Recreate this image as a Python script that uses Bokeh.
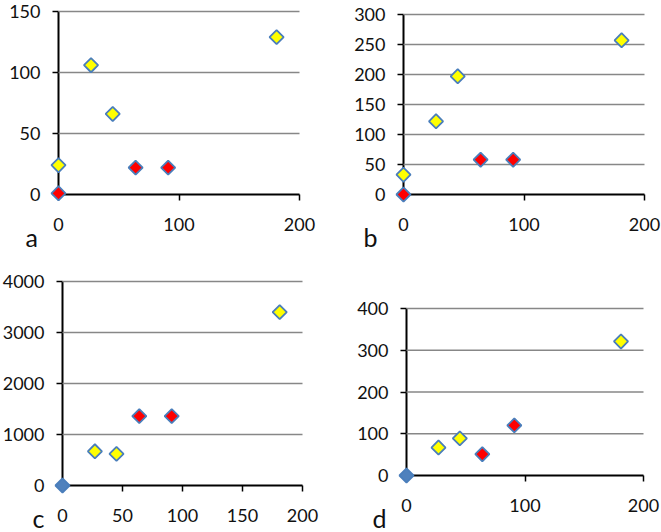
import math
from bokeh.plotting import figure
from bokeh.layouts import gridplot
from bokeh.models import Range1d, FixedTicker, Label, LinearAxis
from bokeh.embed import file_html
from bokeh.resources import INLINE

# ---------------- data ----------------
# panel a
a_yellow_x = [0, 27, 45, 181]
a_yellow_y = [24, 106, 66, 129]
a_red_x = [0, 64, 91]
a_red_y = [1, 22, 22]
a_xticks = [0, 100, 200]
a_yticks = [0, 50, 100, 150]

# panel b
b_yellow_x = [0, 27, 45, 181]
b_yellow_y = [33, 122, 197, 257]
b_red_x = [0, 64, 91]
b_red_y = [0, 58, 58]
b_xticks = [0, 100, 200]
b_yticks = [0, 50, 100, 150, 200, 250, 300]

# panel c
c_blue_x = [0]
c_blue_y = [0]
c_yellow_x = [27, 45, 181]
c_yellow_y = [670, 620, 3400]
c_red_x = [64, 91]
c_red_y = [1360, 1360]
c_xticks = [0, 50, 100, 150, 200]
c_yticks = [0, 1000, 2000, 3000, 4000]

# panel d
d_blue_x = [0]
d_blue_y = [0]
d_yellow_x = [27, 45, 181]
d_yellow_y = [67, 89, 321]
d_red_x = [64, 91]
d_red_y = [51, 120]
d_xticks = [0, 100, 200]
d_yticks = [0, 100, 200, 300, 400]

FONT = "Lato"
OUTLINE = "#4A7EBB"


def panel(w, h, ox, oy, xr, yt, xticks, yticks, series, letter, lx, lb):
    xmax = xticks[-1]
    ymax = yticks[-1]
    kx = (xr - ox) / xmax
    ky = (oy - yt) / ymax
    p = figure(width=w, height=h,
               x_range=Range1d(-ox / kx, xmax + (w - xr) / kx),
               y_range=Range1d(-(h - oy) / ky, ymax + yt / ky),
               output_backend="svg", toolbar_location=None,
               x_axis_location=None, y_axis_location=None,
               min_border_left=0, min_border_right=0,
               min_border_top=0, min_border_bottom=0)
    p.grid.visible = False
    p.outline_line_color = None
    p.background_fill_color = "white"
    p.border_fill_color = "white"

    # horizontal gridlines
    gl = [v for v in yticks if v != 0]
    p.segment(x0=[0] * len(gl), y0=gl, x1=[xmax] * len(gl), y1=gl,
              line_color="#878787", line_width=1.6)

    for axis, ticks, bnd, place in (
        (LinearAxis(fixed_location=0), xticks, (0, xmax), "below"),
        (LinearAxis(fixed_location=0), yticks, (0, ymax), "left"),
    ):
        axis.ticker = FixedTicker(ticks=ticks)
        axis.bounds = bnd
        axis.axis_line_color = "black"
        axis.axis_line_width = 2
        axis.major_tick_line_color = "black"
        axis.major_tick_line_width = 1.5
        axis.major_tick_out = 6
        axis.major_tick_in = 0
        axis.minor_tick_out = 0
        axis.minor_tick_in = 0
        axis.major_label_text_font = FONT
        axis.major_label_text_font_size = "18px"
        axis.major_label_text_color = "#111111"
        axis.major_label_standoff = 17 if place == "below" else 12
        axis.level = "underlay"
        p.add_layout(axis, place)

    for xs, ys, fill in series:
        p.scatter(xs, ys, marker="square", size=10, angle=math.pi / 4,
                  fill_color=fill, line_color=OUTLINE, line_width=1.8)

    p.add_layout(Label(x=(lx - ox) / kx, y=(oy - lb) / ky, text=letter,
                       text_font=FONT, text_font_size="25px", text_color="#111111",
                       text_align="left", text_baseline="alphabetic"))
    return p


pa = panel(330, 266, 58, 194, 299, 11, a_xticks, a_yticks,
           [(a_yellow_x, a_yellow_y, "#FFFF00"), (a_red_x, a_red_y, "#FF0000")],
           "a", 25, 236)
pb = panel(331, 266, 73, 194, 314, 14, b_xticks, b_yticks,
           [(b_yellow_x, b_yellow_y, "#FFFF00"), (b_red_x, b_red_y, "#FF0000")],
           "b", 33, 236)
pc = panel(330, 266, 62, 219, 302, 15, c_xticks, c_yticks,
           [(c_blue_x, c_blue_y, "#4F81BD"), (c_yellow_x, c_yellow_y, "#FFFF00"),
            (c_red_x, c_red_y, "#FF0000")],
           "c", 32, 251)
pd_ = panel(331, 266, 76, 209, 313, 42, d_xticks, d_yticks,
            [(d_blue_x, d_blue_y, "#4F81BD"), (d_yellow_x, d_yellow_y, "#FFFF00"),
             (d_red_x, d_red_y, "#FF0000")],
            "d", 42, 251)

layout = gridplot([[pa, pb], [pc, pd_]], toolbar_location=None)

open("out.html", "w").write(file_html(layout, INLINE))
